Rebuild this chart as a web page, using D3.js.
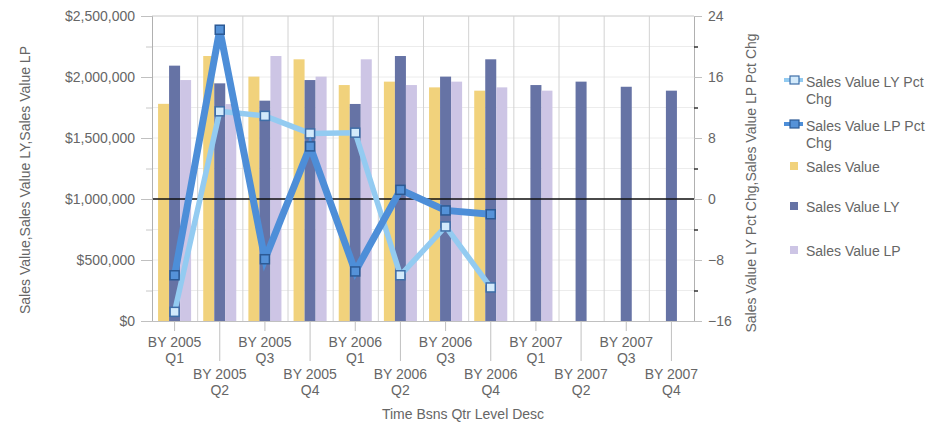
<!DOCTYPE html>
<html>
<head>
<meta charset="utf-8">
<script src="https://cdn.jsdelivr.net/npm/d3@7/dist/d3.min.js"></script>
<style>
  html, body { margin: 0; padding: 0; background: #fff; }
  svg { display: block; font-family: "Liberation Sans", Arial, sans-serif; }
  .lbl { fill: #666; font-size: 14px; }
</style>
</head>
<body>
<svg id="chart" width="930" height="423"></svg>
<script>
// Quarters shown on the category axis
const years    = ["BY 2005","BY 2005","BY 2005","BY 2005","BY 2006","BY 2006","BY 2006","BY 2006","BY 2007","BY 2007","BY 2007","BY 2007"];
const quarters = ["Q1","Q2","Q3","Q4","Q1","Q2","Q3","Q4","Q1","Q2","Q3","Q4"];
const categories = years.map((y, i) => y + " " + quarters[i]);

// Bar series (left axis, dollars)
const salesValue   = [1780000, 2172000, 2003000, 2145000, 1934000, 1962000, 1915000, 1888000, null, null, null, null];
const salesValueLY = [2093000, 1948000, 1806000, 1975000, 1779000, 2172000, 2003000, 2145000, 1934000, 1962000, 1920000, 1888000];
const salesValueLP = [1975000, 1778000, 2172000, 2003000, 2145000, 1934000, 1962000, 1915000, 1888000, null, null, null];

// Line series (right axis, percent change)
const salesValueLYPctChg = [-14.8, 11.5, 10.9, 8.6, 8.7, -10.0, -3.6, -11.6, null, null, null, null];
const salesValueLPPctChg = [-10.0, 22.2, -7.9, 6.9, -9.5, 1.2, -1.5, -2.0, null, null, null, null];

// Axis ticks
const leftTicks  = [0, 500000, 1000000, 1500000, 2000000, 2500000];
const leftMinor  = [250000, 750000, 1250000, 1750000, 2250000];
const rightTicks = [-16, -8, 0, 8, 16, 24];
const rightMinor = [-12, -4, 4, 12, 20];

const barSeries = [
  { name: "Sales Value",    values: salesValue,   color: "#f1d27c" },
  { name: "Sales Value LY", values: salesValueLY, color: "#6673a5" },
  { name: "Sales Value LP", values: salesValueLP, color: "#cdc5e5" }
];
const lineSeries = [
  { name: "Sales Value LY Pct Chg", values: salesValueLYPctChg, color: "#93cbf1", width: 5.5, fill: "#d3eafb", stroke: "#3f6ea8" },
  { name: "Sales Value LP Pct Chg", values: salesValueLPPctChg, color: "#4d8ed8", width: 7,   fill: "#5592d8", stroke: "#2c5a95" }
];

const svg = d3.select("#chart");
const L = 152, R = 694, T = 16, B = 321;

const x0 = d3.scaleBand().domain(categories).range([L, R]).padding(0);
const x1 = d3.scaleBand().domain(barSeries.map(s => s.name)).range([0, x0.bandwidth()])
  .paddingInner(0).paddingOuter(0.55);
const yL = d3.scaleLinear().domain([0, 2500000]).range([B, T]);
const yR = d3.scaleLinear().domain([-16, 24]).range([B, T]);

// Horizontal grid (every quarter million)
svg.append("g").selectAll("line")
  .data(d3.range(250000, 2500001, 250000))
  .join("line")
  .attr("x1", L).attr("x2", R)
  .attr("y1", d => yL(d)).attr("y2", d => yL(d))
  .attr("stroke", d => d === 2500000 ? "#c8c8c8" : "#ececec").attr("stroke-width", 1);

// Vertical grid at category boundaries
svg.append("g").selectAll("line")
  .data(categories.slice(1))
  .join("line")
  .attr("x1", d => x0(d) + 0.5).attr("x2", d => x0(d) + 0.5)
  .attr("y1", T).attr("y2", B)
  .attr("stroke", "#d2d2d2");

// Bars
const groups = svg.append("g").selectAll("g")
  .data(categories)
  .join("g")
  .attr("transform", d => `translate(${x0(d)},0)`);
groups.selectAll("rect")
  .data((c, i) => barSeries.map(s => ({ s, v: s.values[i] })).filter(d => d.v != null))
  .join("rect")
  .attr("x", d => x1(d.s.name))
  .attr("width", x1.bandwidth())
  .attr("y", d => yL(d.v))
  .attr("height", d => B - yL(d.v))
  .attr("fill", d => d.s.color);

// Zero line of the percent axis
svg.append("line")
  .attr("x1", L).attr("x2", R)
  .attr("y1", yR(0)).attr("y2", yR(0))
  .attr("stroke", "#111").attr("stroke-width", 1.5);

// Left axis
const gL = svg.append("g").attr("transform", `translate(${L},0)`)
  .call(d3.axisLeft(yL).tickValues(leftTicks).tickSize(11).tickPadding(6)
    .tickFormat(d => "$" + d3.format(",")(d)));
gL.select(".domain").attr("stroke", "#b0b0b0");
gL.selectAll(".tick line").attr("stroke", "#c0c0c0");
gL.selectAll("text").attr("class", "lbl").attr("fill", null).style("font-size", "14px");
svg.append("g").attr("transform", `translate(${L},0)`)
  .call(d3.axisLeft(yL).tickValues(leftMinor).tickSize(6).tickFormat(""))
  .call(g => g.select(".domain").remove())
  .selectAll(".tick line").attr("stroke", "#c8c8c8");

// Right axis
const gR = svg.append("g").attr("transform", `translate(${R},0)`)
  .call(d3.axisRight(yR).tickValues(rightTicks).tickSize(8).tickPadding(6));
gR.select(".domain").attr("stroke", "#b0b0b0");
gR.selectAll(".tick line").attr("stroke", "#c0c0c0");
gR.selectAll("text").attr("class", "lbl").attr("fill", null).style("font-size", "14px");
svg.append("g").attr("transform", `translate(${R},0)`)
  .call(d3.axisRight(yR).tickValues(rightMinor).tickSize(4).tickFormat(""))
  .call(g => g.select(".domain").remove())
  .selectAll(".tick line").attr("stroke", "#333").attr("stroke-width", 1.5);

// Bottom axis with staggered two-line labels
const gB = svg.append("g").attr("transform", `translate(0,${B})`)
  .call(d3.axisBottom(x0).tickSizeOuter(0).tickFormat(""));
gB.select(".domain").attr("stroke", "#c0c0c0");
gB.selectAll(".tick line")
  .attr("stroke", "#c0c0c0")
  .attr("y2", (d, i) => i % 2 ? 40 : 10);
gB.selectAll(".tick").each(function (d, i) {
  const t = d3.select(this).append("text").attr("class", "lbl")
    .attr("text-anchor", "middle").attr("fill", null);
  const base = i % 2 ? 58 : 26;
  t.append("tspan").attr("x", 0).attr("y", base).text(years[i]);
  t.append("tspan").attr("x", 0).attr("y", base + 16).text(quarters[i]);
});

// Percent-change lines with square markers
const sq = 9;
lineSeries.forEach(s => {
  const pts = s.values.map((v, i) => ({ v, c: categories[i] })).filter(d => d.v != null);
  svg.append("path")
    .datum(pts)
    .attr("fill", "none")
    .attr("stroke", s.color)
    .attr("stroke-width", s.width)
    .attr("stroke-linejoin", "miter")
    .attr("d", d3.line().x(d => x0(d.c) + x0.bandwidth() / 2).y(d => yR(d.v)));
  svg.append("g").selectAll("rect")
    .data(pts)
    .join("rect")
    .attr("x", d => x0(d.c) + x0.bandwidth() / 2 - sq / 2)
    .attr("y", d => yR(d.v) - sq / 2)
    .attr("width", sq).attr("height", sq)
    .attr("fill", s.fill).attr("stroke", s.stroke).attr("stroke-width", 1.5);
});

// Axis titles
svg.append("text").attr("class", "lbl").attr("text-anchor", "middle")
  .attr("transform", "translate(30,180) rotate(-90)")
  .text("Sales Value,Sales Value LY,Sales Value LP");
svg.append("text").attr("class", "lbl").attr("text-anchor", "middle")
  .attr("transform", "translate(756,183) rotate(-90)")
  .text("Sales Value LY Pct Chg,Sales Value LP Pct Chg");
svg.append("text").attr("class", "lbl").attr("text-anchor", "middle")
  .attr("x", 463).attr("y", 419)
  .text("Time Bsns Qtr Level Desc");

// Legend
const lg = svg.append("g");
const lineItems = [
  { s: lineSeries[0], y: 80, lines: ["Sales Value LY Pct", "Chg"] },
  { s: lineSeries[1], y: 124, lines: ["Sales Value LP Pct", "Chg"] }
];
lineItems.forEach(it => {
  lg.append("line").attr("x1", 784).attr("x2", 803).attr("y1", it.y).attr("y2", it.y)
    .attr("stroke", it.s.color).attr("stroke-width", 4);
  lg.append("rect").attr("x", 790).attr("y", it.y - 4).attr("width", 9).attr("height", 8)
    .attr("fill", it.s.fill).attr("stroke", it.s.stroke).attr("stroke-width", 1.2);
  const t = lg.append("text").attr("class", "lbl");
  it.lines.forEach((ln, k) => t.append("tspan").attr("x", 806).attr("y", it.y + 7 + k * 17).text(ln));
});
const barItems = [
  { s: barSeries[0], y: 166 },
  { s: barSeries[1], y: 206 },
  { s: barSeries[2], y: 250 }
];
barItems.forEach(it => {
  lg.append("rect").attr("x", 790).attr("y", it.y - 4).attr("width", 8).attr("height", 8)
    .attr("fill", it.s.color);
  lg.append("text").attr("class", "lbl").attr("x", 806).attr("y", it.y + 6).text(it.s.name);
});
</script>
</body>
</html>
